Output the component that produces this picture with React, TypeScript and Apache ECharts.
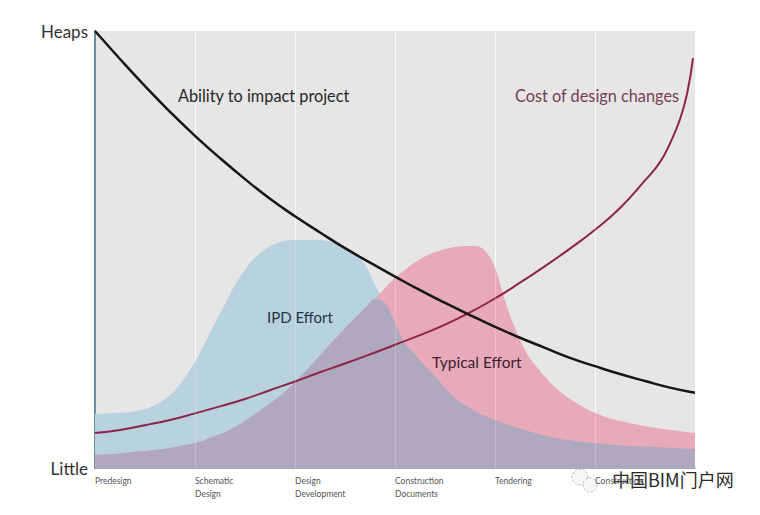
import React, { useEffect, useRef } from "react";
import * as echarts from "echarts";

// Stage labels along the bottom (one per band, left-aligned)
const stageLabels = [
  "Predesign",
  "Schematic\nDesign",
  "Design\nDevelopment",
  "Construction\nDocuments",
  "Tendering",
  "Construction",
];
const levelLabels = { low: "Little", high: "Heaps" };

// Effort curves sampled at shared stage positions
const effortX = [0, 0.2, 0.4, 0.6, 0.8, 1.0, 1.1, 1.2, 1.3, 1.4, 1.5, 1.6, 1.8, 2.0, 2.2, 2.4, 2.6, 2.7, 2.8, 2.9, 3.0, 3.1, 3.2, 3.4, 3.6, 3.7, 3.8, 3.9, 4.0, 4.1, 4.2, 4.3, 4.4, 4.6, 4.8, 5.0, 5.3, 5.6, 6.0];
const ipdEffort = [12.4, 12.6, 13.0, 14.4, 17.8, 24.3, 28.6, 33.2, 37.5, 41.9, 45.3, 48.1, 51.3, 52.2, 52.2, 51.5, 49.0, 46.5, 41.9, 37.8, 33.2, 28.6, 25.9, 21.0, 16.0, 14.4, 13.0, 11.9, 11.0, 10.1, 9.4, 8.7, 8.0, 6.9, 6.2, 5.7, 5.1, 4.8, 4.3];
const typicalEffort = [3.0, 3.2, 3.7, 4.1, 4.8, 5.7, 6.4, 7.3, 8.2, 9.4, 10.8, 12.4, 15.6, 19.7, 24.5, 29.5, 34.3, 36.6, 38.7, 41.2, 43.5, 45.3, 47.1, 49.4, 50.6, 50.8, 50.8, 49.7, 45.8, 38.4, 32.0, 27.0, 23.6, 18.5, 15.1, 12.6, 10.5, 9.2, 8.0];

// Ability to impact project (black line)
const abilityX = [0, 0.25, 0.5, 0.75, 1.0, 1.25, 1.5, 1.75, 2.0, 2.25, 2.5, 2.75, 3.0, 3.25, 3.5, 3.75, 4.0, 4.25, 4.5, 4.75, 5.0, 5.25, 5.5, 5.75, 6.0];
const abilityY = [100, 93.6, 87.4, 81.5, 76.0, 70.9, 66.1, 61.6, 57.6, 53.9, 50.3, 47.0, 43.8, 40.7, 37.8, 35.0, 32.3, 29.8, 27.5, 25.2, 23.3, 21.5, 19.9, 18.4, 17.2];

// Cost of design changes (red line)
const costX = [0, 0.25, 0.5, 0.75, 1.0, 1.25, 1.5, 1.75, 2.0, 2.25, 2.5, 2.75, 3.0, 3.25, 3.5, 3.75, 4.0, 4.25, 4.5, 4.75, 5.0, 5.25, 5.5, 5.65, 5.75, 5.85, 5.92, 5.98];
const costY = [8.0, 8.7, 9.8, 11.0, 12.5, 14.1, 15.8, 17.8, 19.8, 21.9, 23.9, 26.0, 28.2, 30.4, 32.8, 35.6, 38.8, 42.4, 46.2, 50.2, 54.5, 59.5, 65.8, 70.0, 74.3, 79.8, 85.6, 93.8];

const BLUE = "#b8d2df";
const PINK = "#e8aab9";
const OVERLAP = "#afa8be";
const FONT = "Lato, 'Open Sans', sans-serif";

export default function App() {
  const ref = useRef<HTMLDivElement>(null);

  useEffect(() => {
    if (!ref.current) return;
    const chart = echarts.init(ref.current, undefined, { renderer: "svg" });

    const pairs = (xs: number[], ys: number[]) => xs.map((x, i) => [x, ys[i]]);
    const overlap = effortX.map((x, i) => [x, Math.min(ipdEffort[i], typicalEffort[i])]);
    const bandEdges = stageLabels.map((_, i) => i).filter((i) => i > 0);

    const areaSeries = (name: string, data: number[][], color: string, z: number) => ({
      name,
      type: "line",
      data,
      smooth: 0.4,
      symbol: "none",
      z,
      lineStyle: { width: 0, color },
      areaStyle: { color, opacity: 1 },
      silent: true,
    });

    const overlapSeries: any = areaSeries("Overlap", overlap, OVERLAP, 3);
    overlapSeries.markLine = {
      silent: true,
      symbol: "none",
      label: { show: false },
      lineStyle: { color: "rgba(255,255,255,0.22)", width: 1, type: "solid" },
      data: bandEdges.map((e) => ({ xAxis: e })),
    };

    chart.setOption({
      animation: false,
      backgroundColor: "#ffffff",
      grid: {
        left: 95,
        right: 65,
        top: 31,
        bottom: 47,
        show: true,
        backgroundColor: "#e6e6e6",
        borderWidth: 0,
      },
      xAxis: {
        type: "value",
        min: 0,
        max: 6,
        interval: 1,
        axisLine: { show: true, onZero: false, lineStyle: { color: "#8d95a3", width: 1.5 } },
        axisTick: { show: false },
        splitLine: { show: true, lineStyle: { color: "rgba(255,255,255,0.75)", width: 1 } },
        axisLabel: {
          formatter: (v: number) => stageLabels[v] ?? "",
          align: "left",
          verticalAlign: "top",
          margin: 6,
          fontSize: 8.5,
          lineHeight: 13,
          color: "#555",
          fontFamily: FONT,
          showMaxLabel: false,
        },
      },
      yAxis: {
        type: "value",
        min: 0,
        max: 100,
        interval: 100,
        axisLine: { show: true, lineStyle: { color: "#6f8c9c", width: 2 } },
        axisTick: { show: false },
        splitLine: { show: false },
        axisLabel: {
          formatter: (v: number) => (v === 0 ? levelLabels.low : levelLabels.high),
          margin: 7,
          fontSize: 17,
          color: "#333",
          fontFamily: FONT,
        },
      },
      series: [
        areaSeries("IPD Effort", pairs(effortX, ipdEffort), BLUE, 1),
        areaSeries("Typical Effort", pairs(effortX, typicalEffort), PINK, 2),
        overlapSeries,
        {
          name: "Cost of design changes",
          type: "line",
          data: pairs(costX, costY),
          smooth: 0.5,
          symbol: "none",
          z: 4,
          lineStyle: { color: "#8e2447", width: 2 },
        },
        {
          name: "Ability to impact project",
          type: "line",
          data: pairs(abilityX, abilityY),
          smooth: 0.5,
          symbol: "none",
          z: 5,
          lineStyle: { color: "#161616", width: 2.5 },
        },
      ],
      graphic: [
        {
          type: "text",
          left: 178,
          top: 87,
          z: 10,
          style: { text: "Ability to impact project", fontSize: 16.3, fontFamily: FONT, fill: "#262626" },
        },
        {
          type: "text",
          left: 515,
          top: 87,
          z: 10,
          style: { text: "Cost of design changes", fontSize: 16.3, fontFamily: FONT, fill: "#7a3c52" },
        },
        {
          type: "text",
          left: 267,
          top: 309,
          z: 10,
          style: { text: "IPD Effort", fontSize: 15, fontFamily: FONT, fill: "#26323f" },
        },
        {
          type: "text",
          left: 432,
          top: 354,
          z: 10,
          style: { text: "Typical Effort", fontSize: 15.5, fontFamily: FONT, fill: "#3a1e2c" },
        },
        // watermark
        {
          type: "group",
          z: 20,
          children: [
            {
              type: "circle",
              shape: { cx: 580, cy: 477, r: 8 },
              style: { fill: "#f6f6f6", stroke: "#b0b0b0", lineWidth: 1, lineDash: [2, 2] },
            },
            {
              type: "circle",
              shape: { cx: 590, cy: 485, r: 7 },
              style: { fill: "#f6f6f6", stroke: "#b0b0b0", lineWidth: 1, lineDash: [2, 2] },
            },
            {
              type: "text",
              x: 612,
              y: 470,
              style: {
                text: "中国BIM门户网",
                fontSize: 18,
                fontFamily: "'Noto Sans CJK SC', sans-serif",
                fill: "#2a2a2a",
                stroke: "#ffffff",
                lineWidth: 2,
              },
            },
          ],
        },
      ],
    });

    return () => chart.dispose();
  }, []);

  return (
    <div
      ref={ref}
      style={{ position: "fixed", left: 0, top: 0, width: 760, height: 515, background: "#fff" }}
    />
  );
}
